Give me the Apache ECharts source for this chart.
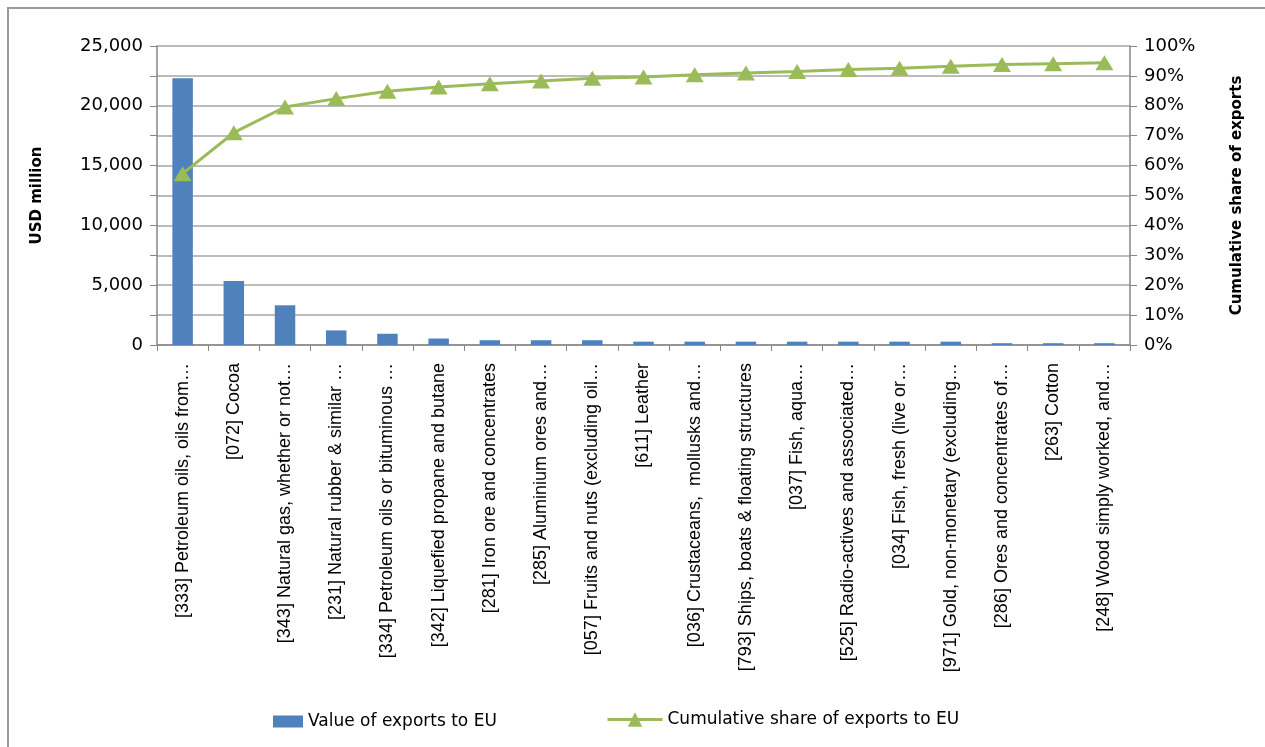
<!DOCTYPE html>
<html>
<head>
<meta charset="utf-8">
<script src="https://cdn.jsdelivr.net/npm/echarts@6/dist/echarts.min.js"></script>
<style>
  html, body { margin: 0; padding: 0; background: #fff; overflow: hidden; width: 1265px; height: 747px; }
  .frame {
    position: absolute; left: 7px; top: 7px; width: 1258px; height: 740px;
    box-sizing: border-box;
    border-left: 2px solid #9a9a9a;
    border-top: 2px solid #9a9a9a;
  }
  #chart { position: absolute; left: 0; top: 0; width: 1265px; height: 747px; }
</style>
</head>
<body>
<div class="frame"></div>
<div id="chart"></div>
<script>
  // 数据
  const categories = [
    '[333] Petroleum oils, oils from…',
    '[072] Cocoa',
    '[343] Natural gas, whether or not…',
    '[231] Natural rubber & similar …',
    '[334] Petroleum oils or bituminous …',
    '[342] Liquefied propane and butane',
    '[281] Iron ore and concentrates',
    '[285] Aluminium ores and…',
    '[057] Fruits and nuts (excluding oil…',
    '[611] Leather',
    '[036] Crustaceans,  mollusks and…',
    '[793] Ships, boats & floating structures',
    '[037] Fish, aqua…',
    '[525] Radio-actives and associated…',
    '[034] Fish, fresh (live or…',
    '[971] Gold, non-monetary (excluding…',
    '[286] Ores and concentrates of…',
    '[263] Cotton',
    '[248] Wood simply worked, and…'
  ]
  const exportValues = [22300, 5350, 3320, 1220, 940, 540, 400, 400, 400, 280, 280, 280, 280, 280, 280, 280, 150, 150, 150]
  const cumulativeShare = [0.573, 0.71, 0.796, 0.824, 0.849, 0.863, 0.874, 0.883, 0.892, 0.896, 0.904, 0.91, 0.915, 0.921, 0.926, 0.932, 0.938, 0.941, 0.944]

  const barName = 'Value of exports to EU'
  const lineName = 'Cumulative share of exports to EU'
  const barColor = '#4f81bd'
  const lineColor = '#9bbb59'
  const axisColor = '#868686'
  const font = 'DejaVu Sans'

  const chart = echarts.init(document.getElementById('chart'))
  chart.setOption({
    animation: false,
    grid: { left: 157, right: 135, top: 46, bottom: 402 },
    legend: [
      {
        data: [{ name: barName, icon: 'rect' }],
        left: 268,
        top: 708,
        itemWidth: 30,
        itemHeight: 12,
        itemGap: 8,
        textStyle: { fontFamily: font, fontSize: 17, color: '#000' }
      },
      {
        data: [lineName],
        left: 601,
        top: 706,
        itemWidth: 55,
        itemHeight: 18,
        itemGap: 8,
        lineStyle: { width: 3 },
        textStyle: { fontFamily: font, fontSize: 17, color: '#000' }
      }
    ],
    xAxis: {
      type: 'category',
      data: categories,
      axisLine: { lineStyle: { color: axisColor, width: 1.5 } },
      axisTick: { show: true, length: 6, lineStyle: { color: axisColor } },
      axisLabel: {
        rotate: 90,
        interval: 0,
        margin: 18,
        fontFamily: 'Liberation Sans',
        fontSize: 18,
        color: '#000'
      }
    },
    yAxis: [
      {
        type: 'value',
        name: 'USD million',
        nameLocation: 'middle',
        nameGap: 112,
        nameRotate: 90,
        nameTextStyle: { fontFamily: font, fontSize: 15, fontWeight: 'bold', color: '#000' },
        min: 0,
        max: 25000,
        interval: 2500,
        axisLine: { show: true, lineStyle: { color: axisColor, width: 1.5 } },
        axisTick: { show: true, length: 7, lineStyle: { color: axisColor } },
        splitLine: { show: false },
        axisLabel: {
          margin: 14,
          fontFamily: font,
          fontSize: 18,
          color: '#000',
          formatter: (v) => (v % 5000 === 0 ? v.toLocaleString('en-US') : '')
        }
      },
      {
        type: 'value',
        name: 'Cumulative share of exports',
        nameLocation: 'middle',
        nameGap: 100,
        nameRotate: 90,
        nameTextStyle: { fontFamily: font, fontSize: 15, fontWeight: 'bold', color: '#000' },
        min: 0,
        max: 1,
        interval: 0.1,
        axisLine: { show: true, lineStyle: { color: axisColor, width: 1.5 } },
        axisTick: { show: true, length: 7, lineStyle: { color: axisColor } },
        splitLine: { show: true, lineStyle: { color: '#a6a6a6', width: 1.5 } },
        axisLabel: {
          margin: 14,
          fontFamily: font,
          fontSize: 18,
          color: '#000',
          formatter: (v) => Math.round(v * 100) + '%'
        }
      }
    ],
    series: [
      {
        name: barName,
        type: 'bar',
        yAxisIndex: 0,
        data: exportValues,
        barWidth: '40%',
        itemStyle: { color: barColor }
      },
      {
        name: lineName,
        type: 'line',
        yAxisIndex: 1,
        data: cumulativeShare,
        symbol: 'triangle',
        symbolSize: [18, 15],
        lineStyle: { color: lineColor, width: 3 },
        itemStyle: { color: lineColor }
      }
    ]
  })
</script>
</body>
</html>
